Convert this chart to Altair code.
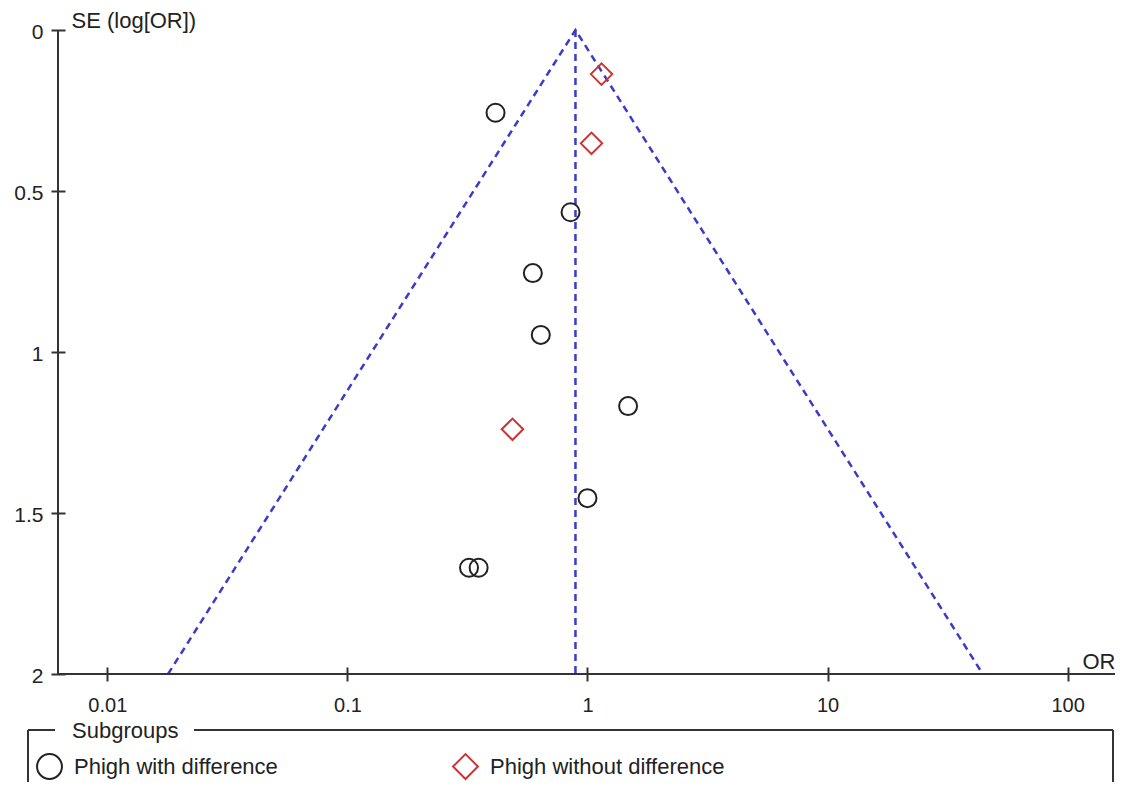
import altair as alt
import pandas as pd

# ---- data ----
groups = ["Phigh with difference", "Phigh without difference"]
circle_or = [0.414, 0.850, 0.592, 0.639, 1.476, 1.000, 0.321, 0.352]
circle_se = [0.257, 0.566, 0.755, 0.947, 1.168, 1.454, 1.670, 1.670]
diamond_or = [1.144, 1.039, 0.487]
diamond_se = [0.137, 0.352, 1.240]

pooled_or = 0.891
funnel_or = [0.0179, 0.891, 44.3]
funnel_se = [2.0, 0.0, 2.0]
center_se = [0.0, 2.0]

x_ticks = [0.01, 0.1, 1, 10, 100]
y_ticks = [0, 0.5, 1, 1.5, 2]
x_domain = [0.00623, 157.5]
y_domain = [0, 2]

W, H = 1057, 644
FONT = "Liberation Sans"
TXT = "#222222"
AX = "#333333"
BLUE = "#3b3bc8"
RED = "#cc3333"

circles = pd.DataFrame({"OR": circle_or, "SE": circle_se, "group": groups[0]})
diamonds = pd.DataFrame({"OR": diamond_or, "SE": diamond_se, "group": groups[1]})
funnel = pd.DataFrame({"OR": funnel_or, "SE": funnel_se, "k": list(range(len(funnel_or)))})
center = pd.DataFrame({"OR": [pooled_or, pooled_or], "SE": center_se})
one = pd.DataFrame({"a": [0]})

X = alt.X(
    "OR:Q",
    scale=alt.Scale(type="log", domain=x_domain, nice=False),
    axis=alt.Axis(
        values=x_ticks, format="~g", title="OR", offset=-7, tickSize=14,
        domain=False, grid=False, labelPadding=14, labelFontSize=20,
        titleX=W, titleY=1, titleAlign="right", titleBaseline="alphabetic",
    ),
)
Y = alt.Y(
    "SE:Q",
    scale=alt.Scale(domain=y_domain, reverse=True, nice=False, zero=False),
    axis=alt.Axis(
        values=y_ticks, format="~g", title="SE (log[OR])", offset=-7, tickSize=14,
        domain=False, grid=False, labelPadding=8, labelOffset=2, labelFontSize=21,
        titleAngle=0, titleX=6, titleY=-3, titleAlign="left",
        titleBaseline="alphabetic",
    ),
)

leg = alt.Legend(
    orient="none", legendX=-22, legendY=723, direction="horizontal",
    labelFontSize=22, labelFont=FONT, labelColor=TXT, labelLimit=500,
    symbolSize=620, symbolStrokeWidth=2, labelOffset=11, columnPadding=171,
    padding=0,
)
color = alt.Color("group:N", title=None,
                  scale=alt.Scale(domain=groups, range=[TXT, RED]), legend=leg)
shape = alt.Shape("group:N", title=None,
                  scale=alt.Scale(domain=groups, range=["circle", "diamond"]), legend=leg)

dash = dict(color=BLUE, strokeDash=[7, 5], strokeWidth=2.5)
funnel_layer = alt.Chart(funnel).mark_line(**dash).encode(x=X, y=Y, order="k:Q")
center_layer = alt.Chart(center).mark_line(**dash).encode(x=X, y=Y)

circle_layer = alt.Chart(circles).mark_point(
    filled=False, size=324, strokeWidth=2, opacity=1
).encode(x=X, y=Y, color=color, shape=shape)

diamond_layer = alt.Chart(diamonds).mark_point(
    filled=False, size=460, strokeWidth=2, opacity=1
).encode(x=X, y=Y, color=color, shape=shape)

# axis lines
xline = alt.Chart(one).mark_rule(color=AX, strokeWidth=2).encode(
    x=alt.value(0), x2=alt.value(W), y=alt.value(H))
yline = alt.Chart(one).mark_rule(color=AX, strokeWidth=2).encode(
    x=alt.value(0), y=alt.value(0), y2=alt.value(H))

# legend frame
FR_T, FR_L, FR_R, FR_B = 700, -30, 1055, 770
frame = [
    alt.Chart(one).mark_rule(color=AX, strokeWidth=2).encode(
        x=alt.value(FR_L), x2=alt.value(-3), y=alt.value(FR_T)),
    alt.Chart(one).mark_rule(color=AX, strokeWidth=2).encode(
        x=alt.value(136), x2=alt.value(FR_R), y=alt.value(FR_T)),
    alt.Chart(one).mark_rule(color=AX, strokeWidth=2).encode(
        x=alt.value(FR_L), y=alt.value(FR_T), y2=alt.value(FR_B)),
    alt.Chart(one).mark_rule(color=AX, strokeWidth=2).encode(
        x=alt.value(FR_R), y=alt.value(FR_T), y2=alt.value(FR_B)),
]
leg_title = alt.Chart(one).mark_text(
    text="Subgroups", align="left", baseline="alphabetic",
    font=FONT, fontSize=22, color=TXT
).encode(x=alt.value(14), y=alt.value(708))

chart = alt.layer(
    funnel_layer, center_layer, circle_layer, diamond_layer,
    xline, yline, *frame, leg_title
).properties(
    width=W, height=H,
    autosize=alt.AutoSizeParams(type="none"),
    padding={"left": 50, "top": 22, "right": 0, "bottom": 108},
).configure_view(stroke=None).configure_axis(
    labelFont=FONT, labelColor=TXT,
    tickColor=AX, tickWidth=2,
    titleFont=FONT, titleFontSize=22, titleFontWeight="normal", titleColor=TXT,
)

chart.save("out.html", embed_options={"renderer": "svg", "actions": False})
